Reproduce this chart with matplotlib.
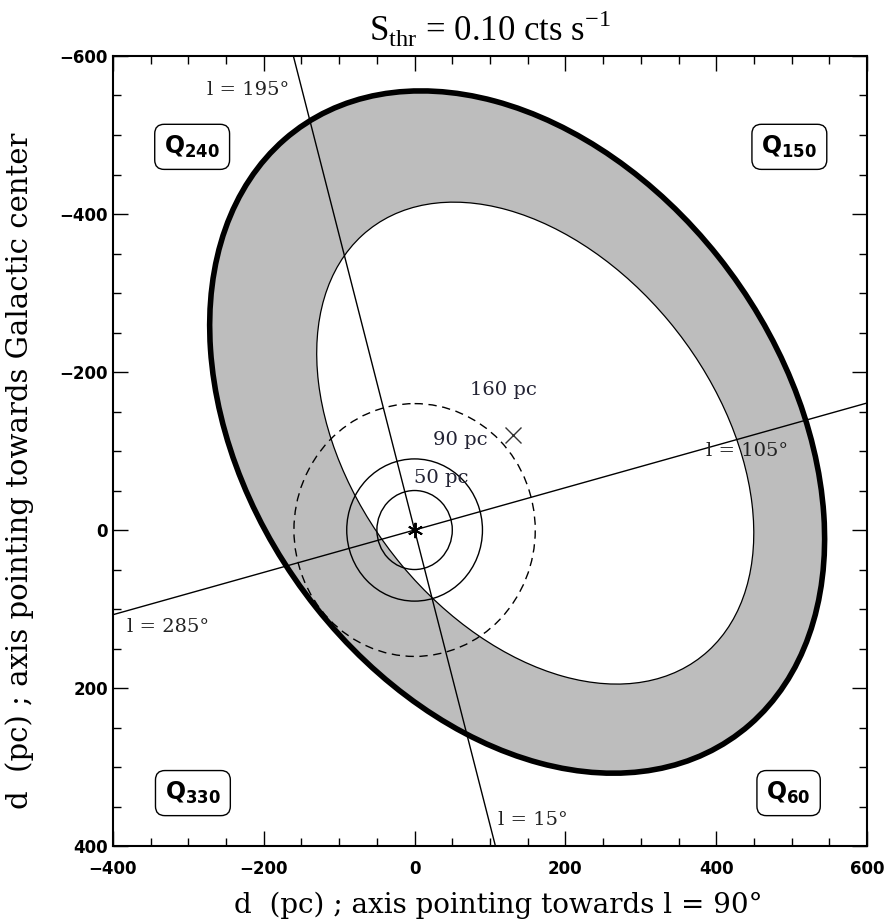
import numpy as np
import matplotlib
matplotlib.use("Agg")
import matplotlib.pyplot as plt
from matplotlib.patches import Ellipse, Circle
from matplotlib.ticker import MultipleLocator

plt.rcParams['mathtext.fontset'] = 'custom'
plt.rcParams['mathtext.rm'] = 'Liberation Serif'
plt.rcParams['mathtext.bf'] = 'DejaVu Sans:bold'

# outer / inner limiting ellipses: centre x, centre y, semi-major, semi-minor, angle (deg)
outer_ellipse = [136, -124, 482, 347, 50.2]
inner_ellipse = [160, -110, 349, 235, 48.9]
centroid = [131, -120]

# distance circles
circle_radii = [50, 90, 160]
circle_styles = ['-', '-', (0, (6, 4))]
circle_labels = ['50 pc', '90 pc', '160 pc']
circle_label_pos = [(-1, -66), (25, -114), (74, -177)]

# galactic longitude lines
lon_lines = [15, 105]
lon_labels = ['l = 195°', 'l = 15°', 'l = 105°', 'l = 285°']
lon_label_pos = [(-275, -557), (111, 367), (386, -100), (-381, 123)]

# quadrant boxes
quad_names = ['240', '150', '330', '60']
quad_pos = [(-295, -485), (497, -485), (-294, 333), (496, 333)]

fig = plt.figure(figsize=(8.84, 9.21), dpi=100)
ax = fig.add_axes([0.1278, 0.0814, 0.853, 0.8578])

ax.set_xlim(-400, 600)
ax.set_ylim(400, -600)

cx, cy, a, b, ang = outer_ellipse
ax.add_patch(Ellipse((cx, cy), 2 * a, 2 * b, angle=ang, facecolor='#bdbdbd',
                     edgecolor='black', lw=4, zorder=1))
cx, cy, a, b, ang = inner_ellipse
ax.add_patch(Ellipse((cx, cy), 2 * a, 2 * b, angle=ang, facecolor='white',
                     edgecolor='black', lw=0.9, zorder=2))

for r, ls in zip(circle_radii, circle_styles):
    ax.add_patch(Circle((0, 0), r, fill=False, edgecolor='black', lw=1.0,
                        linestyle=ls, zorder=3))
for txt, (x, y) in zip(circle_labels, circle_label_pos):
    ax.text(x, y, txt, fontsize=14, family='DejaVu Serif', color='#222233',
            ha='left', va='center', zorder=5)

d = np.array([-1500, 1500])
for lon in lon_lines:
    t = np.radians(lon)
    ax.plot(d * np.sin(t), d * np.cos(t), color='black', lw=1.0, zorder=4)
for txt, (x, y) in zip(lon_labels, lon_label_pos):
    ax.text(x, y, txt, fontsize=14, family='DejaVu Serif', color='#222222',
            ha='left', va='center', zorder=5)

ax.plot(0, 0, marker=(6, 2, 0), ms=11, mew=1.4, color='black', zorder=6)
ax.plot(centroid[0], centroid[1], marker='x', ms=12, mew=1.0, color='#333333', zorder=6)

for q, (x, y) in zip(quad_names, quad_pos):
    ax.text(x, y, r'$\mathbf{Q}_{\mathbf{' + q + '}}$', fontsize=17, ha='center',
            va='center', zorder=7,
            bbox=dict(boxstyle='round,pad=0.4,rounding_size=0.4', fc='white',
                      ec='black', lw=1.0))

ax.xaxis.set_major_locator(MultipleLocator(200))
ax.xaxis.set_minor_locator(MultipleLocator(50))
ax.yaxis.set_major_locator(MultipleLocator(200))
ax.yaxis.set_minor_locator(MultipleLocator(50))
ax.tick_params(which='both', direction='in', top=True, right=True)
ax.tick_params(which='major', length=11, width=1.0)
ax.tick_params(which='minor', length=6, width=1.0)
for lab in ax.get_xticklabels() + ax.get_yticklabels():
    lab.set_fontweight('bold')
    lab.set_fontsize(12)
ax.tick_params(axis='x', pad=10)
for s in ax.spines.values():
    s.set_linewidth(1.5)

ax.set_xlabel('d  (pc) ; axis pointing towards l = 90°', family='DejaVu Serif',
              fontsize=20)
ax.xaxis.set_label_coords(0.511, -0.058)
ax.set_ylabel('d  (pc) ; axis pointing towards Galactic center',
              family='DejaVu Serif', fontsize=21)
ax.yaxis.set_label_coords(-0.105, 0.475)
ax.set_title(r'S$_{\rm thr}$ = 0.10 cts s$^{-1}$', family='Liberation Serif',
             fontsize=25, pad=11)

fig.savefig('out.png', dpi=100)
